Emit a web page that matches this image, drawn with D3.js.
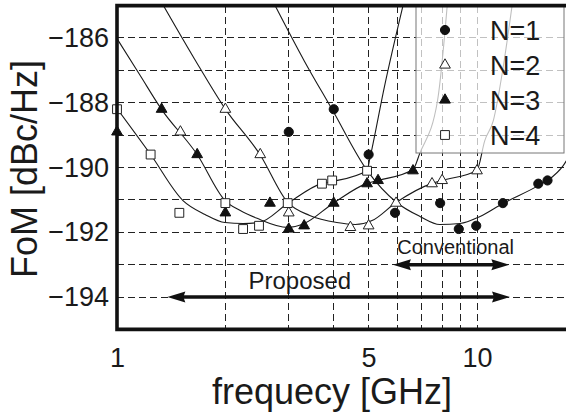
<!DOCTYPE html>
<html>
<head>
<meta charset="utf-8">
<script src="https://cdn.jsdelivr.net/npm/d3@7"></script>
<style>
  body { margin: 0; background: #fff; }
  svg { display: block; font-family: "Liberation Sans", Arial, Helvetica, sans-serif; }
</style>
</head>
<body>
<div id="chart"></div>
<script>
// tick labels and grid positions
var xTickLabels = [1, 5, 10];
var yTickLabels = [-186, -188, -190, -192, -194];
var xGridValues = [2, 3, 4, 5, 6, 7, 8, 9, 10];
var yGridValues = [-186, -187, -188, -189, -190, -191, -192, -193, -194];

// measured points [freq GHz, FoM dBc/Hz]
var n1Points = [[3, -188.9], [4, -188.2], [5, -189.6], [5.92, -191.4], [7.9, -191.1], [8.9, -191.9],
                [9.95, -191.8], [11.8, -191.1], [14.8, -190.5], [15.7, -190.4]];
var n2Points = [[1.5, -188.9], [2, -188.2], [2.5, -189.6], [3, -191.4], [4.45, -191.85], [5, -191.8],
                [5.96, -191.1], [7.5, -190.5], [8, -190.4], [10, -190.1]];
var n3Points = [[1, -188.9], [1.33, -188.2], [1.67, -189.6], [2, -191.4], [2.66, -191.1], [3, -191.9],
                [3.31, -191.8], [4, -191.1], [4.95, -190.5], [5.31, -190.4], [6.64, -190.1]];
var n4Points = [[1, -188.2], [1.24, -189.6], [1.49, -191.4], [2, -191.1], [2.24, -191.9], [2.48, -191.8],
                [2.98, -191.1], [3.71, -190.5], [3.96, -190.4], [4.95, -190.1]];

// fitted curves
var n1Fit = [[2.72, -184.9], [3.31, -186.7], [3.96, -188.21], [4.95, -190.09], [5.98, -191.08], [6.94, -191.51],
             [7.88, -191.76], [8.97, -191.73], [10.2, -191.51], [11.8, -191.11], [14.8, -190.56],
             [16.1, -190.31], [17.67, -189.81], [18.75, -189.17]];
var n2Fit = [[1.33, -184.9], [1.64, -186.64], [1.995, -188.18], [2.495, -189.6], [2.98, -191.08], [3.43, -191.48],
             [4.08, -191.7], [4.59, -191.76], [5.11, -191.64], [5.96, -191.08], [7.5, -190.49], [7.99, -190.4],
             [9.99, -190.09], [10.51, -189.17], [11.1, -188.55], [11.9, -186.7], [12.55, -184.9]];
var n3Fit = [[1, -186.02], [1.16, -187.16], [1.325, -188.18], [1.67, -189.6], [1.995, -191.02], [2.2, -191.33],
             [2.45, -191.57], [2.98, -191.85], [3.31, -191.73], [3.98, -191.11], [4.95, -190.49], [5.31, -190.4],
             [6.64, -190.06], [6.93, -189.57], [7.77, -187.93], [8.28, -184.9]];
var n4Fit = [[1, -188.18], [1.24, -189.6], [1.525, -191.02], [1.756, -191.45], [1.995, -191.7], [2.24, -191.73],
             [2.48, -191.7], [2.98, -191.11], [3.71, -190.49], [3.96, -190.43], [4.95, -190.09], [5.04, -189.72],
             [5.54, -187.47], [6.26, -184.9]];

var seriesNames = ["N=1", "N=2", "N=3", "N=4"];

// annotation arrows [from GHz, to GHz, at dBc/Hz]
var proposedRange = [1.38, 12.35, -194];
var conventionalRange = [5.84, 12.3, -193];

var width = 566, height = 413;

var svg = d3.select("#chart").append("svg")
  .attr("width", width)
  .attr("height", height);

var x = d3.scaleLog().domain([1, 20]).range([117, 117 + 360 * Math.log10(20)]);
var y = d3.scaleLinear().domain([-195, -185]).range([329.4, 5.6]);

var plotRight = width;

svg.append("clipPath").attr("id", "clip")
  .append("rect")
  .attr("x", x(1)).attr("y", y(-185))
  .attr("width", plotRight - x(1)).attr("height", y(-195) - y(-185));

// grid
var grid = svg.append("g").attr("shape-rendering", "crispEdges");
grid.selectAll(".hg").data(yGridValues).enter().append("line")
  .attr("x1", x(1)).attr("x2", plotRight)
  .attr("y1", d => y(d)).attr("y2", d => y(d))
  .attr("stroke", "#222").attr("stroke-width", 1)
  .attr("stroke-dasharray", "7,4");
grid.selectAll(".vg").data(xGridValues).enter().append("line")
  .attr("x1", d => x(d)).attr("x2", d => x(d))
  .attr("y1", y(-185)).attr("y2", y(-195))
  .attr("stroke", "#222").attr("stroke-width", 1)
  .attr("stroke-dasharray", "7,4");

// fitted curves
var line = d3.line()
  .x(d => x(d[0]))
  .y(d => y(d[1]))
  .curve(d3.curveMonotoneX);

var curves = svg.append("g").attr("clip-path", "url(#clip)");
[n1Fit, n2Fit, n3Fit, n4Fit].forEach(function(fit) {
  curves.append("path")
    .attr("d", line(fit))
    .attr("fill", "none")
    .attr("stroke", "#1a1a1a")
    .attr("stroke-width", 1.1);
});

// markers
var styles = [
  { type: d3.symbolCircle, size: 66, fill: "#111", stroke: "#111" },
  { type: d3.symbolTriangle, size: 50, fill: "#fff", stroke: "#222" },
  { type: d3.symbolTriangle, size: 50, fill: "#111", stroke: "#111" },
  { type: d3.symbolSquare, size: 78, fill: "#fff", stroke: "#222" }
];

var marks = svg.append("g");
[n1Points, n2Points, n3Points, n4Points].forEach(function(pts, i) {
  var s = styles[i];
  marks.selectAll(null).data(pts).enter().append("path")
    .attr("d", d3.symbol().type(s.type).size(s.size))
    .attr("transform", d => "translate(" + x(d[0]) + "," + y(d[1]) + ")")
    .attr("fill", s.fill)
    .attr("stroke", s.stroke)
    .attr("stroke-width", 1);
});

// legend
var legend = svg.append("g");
legend.append("rect")
  .attr("x", 416).attr("y", 6)
  .attr("width", 148).attr("height", 147)
  .attr("fill", "#fff").attr("fill-opacity", 0.72)
  .attr("stroke", "#777").attr("stroke-width", 1);

seriesNames.forEach(function(name, i) {
  var s = styles[i];
  var ly = 30 + i * 35;
  legend.append("path")
    .attr("d", d3.symbol().type(s.type).size(s.size)())
    .attr("transform", "translate(445," + ly + ")")
    .attr("fill", s.fill).attr("stroke", s.stroke).attr("stroke-width", 1);
  legend.append("text")
    .attr("x", 490).attr("y", ly)
    .attr("dy", "0.36em")
    .attr("font-size", 27)
    .attr("fill", "#1a1a1a")
    .text(name);
});

// arrows
function arrow(r) {
  var x1 = x(r[0]), x2 = x(r[1]), yy = y(r[2]);
  var g = svg.append("g");
  g.append("line")
    .attr("x1", x1 + 10).attr("x2", x2 - 10)
    .attr("y1", yy).attr("y2", yy)
    .attr("stroke", "#111").attr("stroke-width", 3.5);
  g.append("path")
    .attr("d", "M" + x1 + "," + yy + "L" + (x1 + 18) + "," + (yy - 5.5) + "L" + (x1 + 16) + "," + yy +
               "L" + (x1 + 18) + "," + (yy + 5.5) + "Z")
    .attr("fill", "#111");
  g.append("path")
    .attr("d", "M" + x2 + "," + yy + "L" + (x2 - 18) + "," + (yy - 5.5) + "L" + (x2 - 16) + "," + yy +
               "L" + (x2 - 18) + "," + (yy + 5.5) + "Z")
    .attr("fill", "#111");
  return g;
}
arrow(proposedRange);
arrow(conventionalRange);

svg.append("text")
  .attr("x", x(3.22)).attr("y", y(proposedRange[2]) - 8)
  .attr("text-anchor", "middle")
  .attr("font-size", 24)
  .attr("fill", "#1a1a1a")
  .text("Proposed");

svg.append("text")
  .attr("x", x(8.72)).attr("y", y(conventionalRange[2]) - 11)
  .attr("text-anchor", "middle")
  .attr("font-size", 20)
  .attr("fill", "#1a1a1a")
  .text("Conventional");

// frame (left, top, bottom)
var frame = svg.append("g");
frame.append("path")
  .attr("d", "M" + plotRight + "," + y(-185) + "L" + x(1) + "," + y(-185) +
             "L" + x(1) + "," + y(-195) + "L" + plotRight + "," + y(-195))
  .attr("fill", "none")
  .attr("stroke", "#111")
  .attr("stroke-width", 3.6);

// axes
var yAxis = svg.append("g")
  .attr("transform", "translate(" + x(1) + ",0)")
  .call(d3.axisLeft(y).tickValues(yTickLabels).tickSize(0).tickPadding(8));
yAxis.select(".domain").remove();
yAxis.selectAll("text")
  .attr("font-size", 27)
  .attr("font-family", "Liberation Sans, Arial, sans-serif")
  .attr("fill", "#1a1a1a");

var xAxis = svg.append("g")
  .attr("transform", "translate(0," + y(-195) + ")")
  .call(d3.axisBottom(x).tickValues(xTickLabels).tickFormat(d3.format("d")).tickSize(0).tickPadding(18));
xAxis.select(".domain").remove();
xAxis.selectAll("text")
  .attr("font-size", 27)
  .attr("font-family", "Liberation Sans, Arial, sans-serif")
  .attr("fill", "#1a1a1a");

// axis titles
svg.append("text")
  .attr("x", 332).attr("y", 404)
  .attr("text-anchor", "middle")
  .attr("font-size", 36)
  .attr("fill", "#1a1a1a")
  .text("frequecy [GHz]");

svg.append("text")
  .attr("transform", "translate(37,169) rotate(-90)")
  .attr("text-anchor", "middle")
  .attr("font-size", 36)
  .attr("fill", "#1a1a1a")
  .text("FoM [dBc/Hz]");
</script>
</body>
</html>
